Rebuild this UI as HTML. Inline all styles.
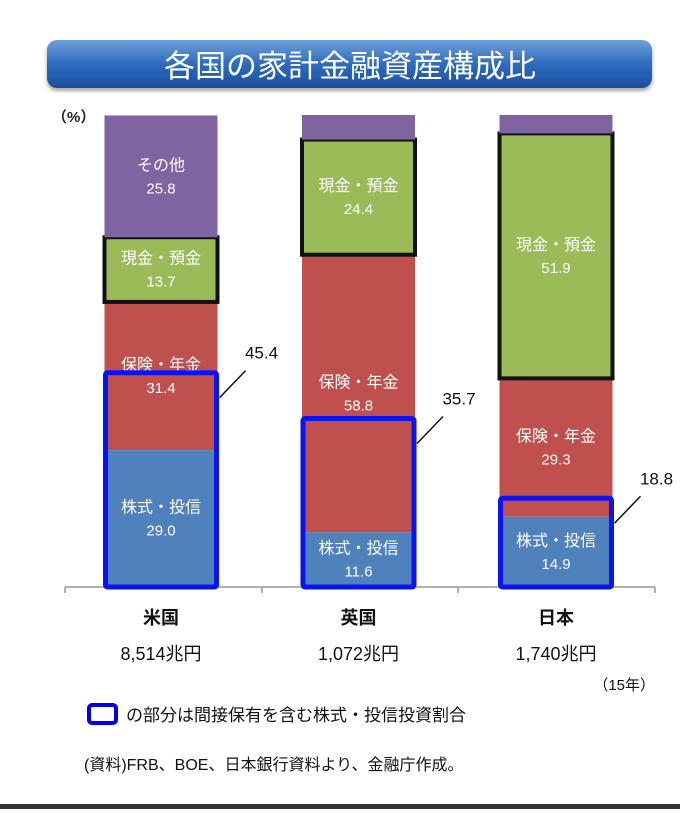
<!DOCTYPE html>
<html><head><meta charset="utf-8">
<style>
body{margin:0;width:680px;height:809px;background:#fff;overflow:hidden;font-family:"Liberation Sans","Noto Sans CJK JP",sans-serif;}
</style></head>
<body>
<svg width="680" height="809" xmlns="http://www.w3.org/2000/svg" font-family="Liberation Sans, Noto Sans CJK JP, sans-serif">
<defs>
<linearGradient id="tg" x1="0" y1="0" x2="0" y2="1">
<stop offset="0" stop-color="#6f9fd8"/><stop offset="0.5" stop-color="#2e6bbf"/><stop offset="1" stop-color="#1d4f9a"/>
</linearGradient>
<filter id="sh"><feDropShadow dx="0" dy="3" stdDeviation="2" flood-color="#000" flood-opacity="0.35"/></filter>
</defs>
<rect x="47" y="40" width="605" height="48" rx="10" fill="url(#tg)" filter="url(#sh)"/>
<text x="350" y="77" text-anchor="middle" font-size="31" fill="#fff">各国の家計金融資産構成比</text>
<text x="52" y="122" font-size="15" font-weight="bold" fill="#222">（%）</text>
<g id="plot"></g>
<text x="86" y="722" font-size="1" fill="none"> </text>
<rect x="89" y="705" width="27" height="18" rx="3" fill="#fff" stroke="#0000ee" stroke-width="4"/>
<text x="126" y="721" font-size="17" fill="#111">の部分は間接保有を含む株式・投信投資割合</text>
<text x="84" y="770" font-size="16" fill="#111">(資料)FRB、BOE、日本銀行資料より、金融庁作成。</text>
<text x="655" y="690" text-anchor="end" font-size="15" fill="#111">（15年）</text>
<rect x="0" y="804" width="680" height="5" fill="#333"/>
</svg>
<script>
const countries=["米国","英国","日本"];
const totals=["8,514兆円","1,072兆円","1,740兆円"];
const stocks=[29.0,11.6,14.9];
const insurance=[31.4,58.8,29.3];
const cash=[13.7,24.4,51.9];
const other=[25.8,5.2,3.9];
const indirect=[45.4,35.7,18.8];
const NS="http://www.w3.org/2000/svg";
const g=document.getElementById('plot');
const y0=587,yTop=115;
const y=v=>y0-(v/100)*(y0-yTop);
const cx=i=>161+i*197.5;
const bw=113;
function el(t,a){const e=document.createElementNS(NS,t);for(const k in a)e.setAttribute(k,a[k]);g.appendChild(e);return e;}
function txt(x,yy,s,size,fill,anchor){const e=el('text',{x:x,y:yy,'font-size':size,fill:fill,'text-anchor':anchor||'middle'});e.textContent=s;return e;}
const axis=el('line',{x1:65,y1:587,x2:655,y2:587,stroke:'#999','stroke-width':1.5});


[65,262,458,655].forEach(x=>{const t=el('line',{x1:x,y1:587,x2:x,y2:593,stroke:'#999','stroke-width':1.5});

});
const segs=[["stocks",stocks,"#4f81bd","株式・投信"],["insurance",insurance,"#c0504d","保険・年金"],["cash",cash,"#9bbb59","現金・預金"],["other",other,"#8064a2","その他"]];
countries.forEach((c,i)=>{
 let acc=0;const x=cx(i)-bw/2;
 segs.forEach(([nm,arr,col,lab])=>{
  const v=arr[i];const yt=y(acc+v),yb=y(acc);
  const r=el('rect',{x:x,y:yt,width:bw,height:yb-yt,fill:col});
  
  
  if(nm==='cash'){const b=el('rect',{x:x,y:yt,width:bw,height:yb-yt,fill:'none',stroke:'#111','stroke-width':4});
   
   }
  if(v>10){const m=(yt+yb)/2;
   const l=txt(cx(i),m-6,lab,16,'#fff');
   
   
   const n=txt(cx(i),m+17,v.toFixed(1),15,'#fff');
   
   }
  acc+=v;
 });
 const yt=y(indirect[i]);
 const b=el('rect',{x:x+1,y:yt,width:bw-2,height:y0-yt,fill:'none',stroke:'#0a14f0','stroke-width':5,rx:2});
 
 
 const ln=el('line',{x1:x+bw+2,y1:yt+25,x2:x+bw+28,y2:yt-2,stroke:'#111','stroke-width':1.5});
 
 
 const it=txt(x+bw+44,yt-14,indirect[i].toFixed(1),17,'#111');
 
 
 const cl=txt(cx(i),624,c,18,'#111');
 cl.setAttribute('font-weight','bold');
 
 
 const tl=txt(cx(i),660,totals[i],18,'#111');
 
 
});
</script>
</body></html>
